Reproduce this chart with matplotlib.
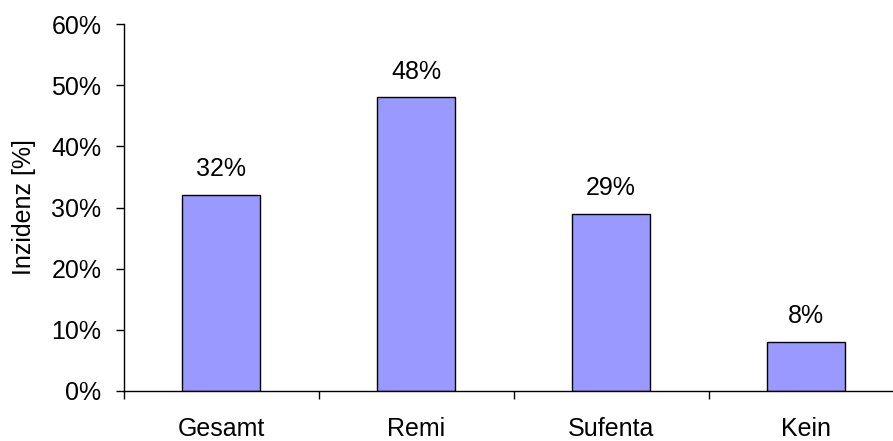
import matplotlib
matplotlib.use("Agg")
import matplotlib.pyplot as plt
from matplotlib.ticker import PercentFormatter, FixedLocator

categories = ["Gesamt", "Remi", "Sufenta", "Kein"]
values = [32, 48, 29, 8]
y_ticks = [0, 10, 20, 30, 40, 50, 60]

plt.rcParams["font.family"] = ["Liberation Sans", "DejaVu Sans"]
FS = 18

fig = plt.figure(figsize=(8.93, 4.41), dpi=100)
ax = fig.add_axes([123.5 / 893, 1 - 391 / 441, 780 / 893, 367 / 441])

x = range(len(categories))
ax.bar(x, values, width=0.4, color="#9999FF", edgecolor="black", linewidth=1.0)

for xi, v in zip(x, values):
    ax.annotate(f"{v}%", (xi, v), xytext=(0, 10), textcoords="offset points",
                ha="center", va="bottom", fontsize=FS)

ax.set_xlim(-0.5, len(categories) - 0.5)
ax.set_ylim(0, 60)
ax.set_yticks(y_ticks)
ax.yaxis.set_major_formatter(PercentFormatter(decimals=0))
ax.tick_params(axis="y", labelsize=FS, length=6, width=1, direction="out", pad=10)

# category labels centered, tick marks on boundaries between categories
ax.set_xticks(list(x))
ax.set_xticklabels(categories, fontsize=FS)
ax.tick_params(axis="x", which="major", length=0, pad=19)
ax.xaxis.set_minor_locator(FixedLocator([-0.5] + [i + 0.5 for i in range(len(categories) - 1)]))
ax.tick_params(axis="x", which="minor", length=6, width=1, direction="out")

ax.spines["top"].set_visible(False)
ax.spines["right"].set_visible(False)
ax.spines["left"].set_linewidth(1)
ax.spines["bottom"].set_linewidth(1)

ax.set_ylabel("Inzidenz [%]", fontsize=FS, labelpad=11)

fig.savefig("out.png", dpi=100)
